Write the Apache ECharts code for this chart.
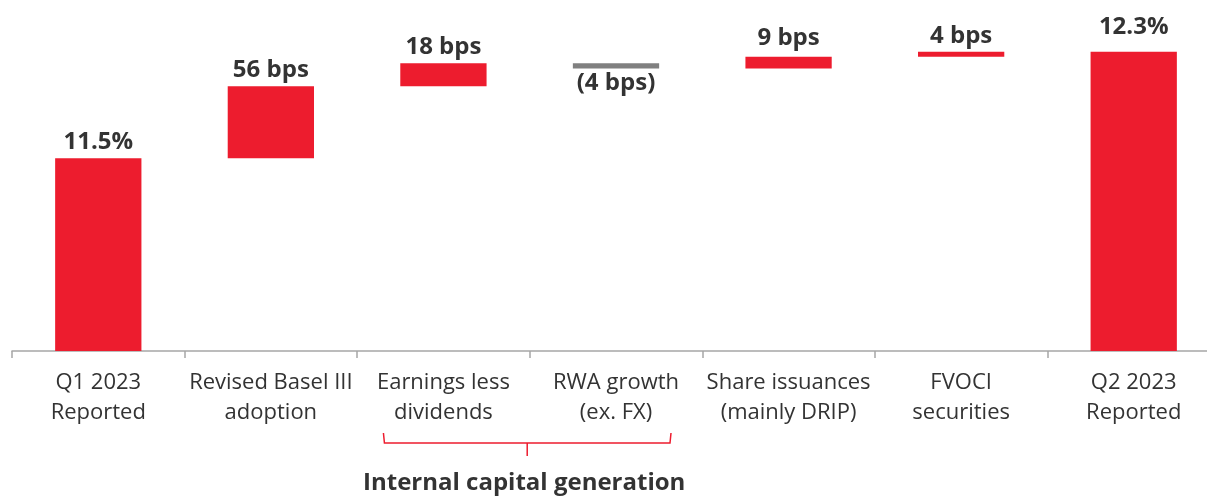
<!DOCTYPE html>
<html>
<head>
<meta charset="utf-8">
<style>
html, body { margin: 0; padding: 0; background: #fff; }
#chart { width: 1207px; height: 496px; }
</style>
<script src="https://cdn.jsdelivr.net/npm/echarts@6/dist/echarts.min.js"></script>
</head>
<body>
<div id="chart"></div>
<script>
const categories = ['Q1 2023\nReported', 'Revised Basel III\nadoption', 'Earnings less\ndividends', 'RWA growth\n(ex. FX)', 'Share issuances\n(mainly DRIP)', 'FVOCI\nsecurities', 'Q2 2023\nReported']
const startRatio = 11.5
const changesBps = [56, 18, -4, 9, 4]
const valueLabels = ['11.5%', '56 bps', '18 bps', '(4 bps)', '9 bps', '4 bps', '12.3%']
const labelGaps = [4, 4, 4, 3, 7, 4, 13]
const groupLabel = 'Internal capital generation'

const RED = '#ED1C2E'
const GREY = '#808080'
const TEXT = '#333333'
const FONT = '"Open Sans", "Noto Sans", sans-serif'

const chart = echarts.init(document.getElementById('chart'))

// build waterfall pieces: transparent base + rising (red) + falling (grey)
const base = [0]
const rise = [startRatio]
const fall = ['-']
let level = startRatio
changesBps.forEach(bps => {
  const d = bps / 100
  if (d >= 0) {
    base.push(level)
    rise.push(d)
    fall.push('-')
    level += d
  } else {
    level += d
    base.push(level)
    rise.push('-')
    fall.push(-d)
  }
})
base.push(0)
rise.push(level)
fall.push('-')

function labelled(arr, position) {
  return arr.map((v, i) => v === '-' ? '-' : {
    value: v,
    label: { show: true, position: position, distance: labelGaps[i], formatter: valueLabels[i] }
  })
}

const labelStyle = {
  fontFamily: FONT,
  fontWeight: 700,
  fontSize: 24,
  color: TEXT
}

chart.setOption({
  animation: false,
  grid: { left: 12, width: 1208, top: 17, bottom: 145, containLabel: false, outerBoundsMode: 'none' },
  xAxis: {
    type: 'category',
    data: categories,
    axisLine: { lineStyle: { color: '#a6a6a6', width: 1.5 } },
    axisTick: { show: true, length: 7, lineStyle: { color: '#a6a6a6', width: 1.5 } },
    axisLabel: {
      color: TEXT,
      fontFamily: FONT,
      fontSize: 22,
      lineHeight: 30,
      margin: 17,
      interval: 0
    }
  },
  yAxis: {
    type: 'value',
    min: 10,
    max: 12.6,
    show: false,
    splitLine: { show: false }
  },
  series: [
    {
      type: 'bar',
      stack: 'wf',
      data: base,
      barWidth: '50%',
      itemStyle: { color: 'transparent' },
      silent: true
    },
    {
      type: 'bar',
      stack: 'wf',
      data: labelled(rise, 'top'),
      barWidth: '50%',
      itemStyle: { color: RED },
      label: labelStyle
    },
    {
      type: 'bar',
      stack: 'wf',
      data: labelled(fall, 'bottom'),
      barWidth: '50%',
      itemStyle: { color: GREY },
      label: labelStyle
    }
  ]
})

// bracket under the two internal-capital categories
const xa = chart.convertToPixel({ xAxisIndex: 0 }, 2) - 60
const xb = chart.convertToPixel({ xAxisIndex: 0 }, 3) + 55
const xc = (xa + xb) / 2
const y0 = chart.convertToPixel({ yAxisIndex: 0 }, 10)

chart.setOption({
  graphic: [
    {
      type: 'polyline',
      shape: { points: [[xa, y0 + 82], [xa + 1, y0 + 92], [xb - 1, y0 + 92], [xb, y0 + 82]] },
      style: { stroke: RED, lineWidth: 1.5, fill: null }
    },
    {
      type: 'line',
      shape: { x1: xc, y1: y0 + 92, x2: xc, y2: y0 + 105 },
      style: { stroke: RED, lineWidth: 1.5 }
    },
    {
      type: 'text',
      x: xc - 3,
      y: y0 + 132,
      style: {
        text: groupLabel,
        fontFamily: FONT,
        fontWeight: 700,
        fontSize: 24,
        fill: TEXT,
        align: 'center',
        verticalAlign: 'middle'
      }
    }
  ]
})

window.addEventListener('resize', () => chart.resize())
</script>
</body>
</html>
